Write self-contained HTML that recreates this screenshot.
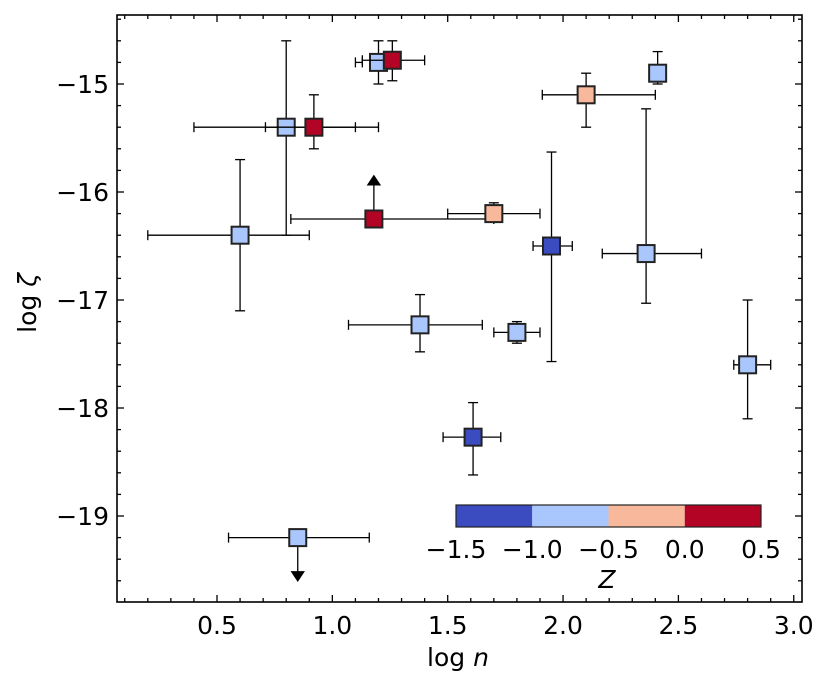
<!DOCTYPE html>
<html><head><meta charset="utf-8"><style>
body{margin:0;background:#fff}
svg{display:block;font-family:"DejaVu Sans","Liberation Sans",sans-serif}
</style></head><body>
<svg id="c" width="831" height="687"></svg>
<script>
const xs=[0.6,0.8,0.92,1.2,1.26,1.18,1.7,1.38,1.8,1.95,2.1,2.41,2.36,2.8,1.61,0.85];
const ys=[-16.4,-15.4,-15.4,-14.8,-14.78,-16.25,-16.2,-17.23,-17.3,-16.5,-15.1,-14.9,-16.57,-17.6,-18.27,-19.2];
const xlo=[0.2,0.4,0.71,1.1,1.13,0.82,1.5,1.07,1.7,1.87,1.91,2.39,2.17,2.74,1.48,0.55];
const xhi=[0.9,1.1,1.2,1.13,1.4,1.7,1.9,1.65,1.9,2.04,2.4,2.44,2.6,2.9,1.73,1.16];
const ylo=[-17.1,-16.4,-15.6,-15.0,-14.97,null,-16.25,-17.48,-17.4,-17.57,-15.4,-15.0,-17.03,-18.1,-18.62,null];
const yhi=[-15.7,-14.6,-15.1,-14.6,-14.6,null,-16.1,-16.95,-17.2,-15.63,-14.9,-14.7,-15.23,-17.0,-17.95,null];
const zs=[-0.8,-0.8,0.3,-0.8,0.3,0.3,-0.3,-0.8,-0.8,-1.3,-0.3,-0.8,-0.8,-0.8,-1.3,-0.8];
const limits=[0,0,0,0,0,1,0,0,0,0,0,0,0,0,0,-1];
const xTicks=[0.5,1.0,1.5,2.0,2.5,3.0];
const yTicks=[-15,-16,-17,-18,-19];
const cbTicks=[-1.5,-1.0,-0.5,0.0,0.5];
const cbColors=['#3b4cc0','#aac7fd','#f7b89c','#b40426'];

const L=117,R=802,T=15,B=602;
const X=v=>217+(v-0.5)*230.7;
const Y=v=>84-(v+15)*108;
const svg=document.getElementById('c');
const NS='http://www.w3.org/2000/svg';
function el(t,a,p){const e=document.createElementNS(NS,t);for(const k in a)e.setAttribute(k,a[k]);(p||svg).appendChild(e);return e;}
function col(z){const i=Math.max(0,Math.min(3,Math.floor((z+1.5)/0.5)));return cbColors[i];}
const fmt=v=>(v<0?'\u2212':'')+Math.abs(v).toFixed(1);
const FS=25;

const tg=el('g',{stroke:'#000','stroke-width':1.3});

for(let v=0.1;v<=3.01;v+=0.1){const px=X(v);if(px<L||px>R)continue;const maj=Math.abs(v*2-Math.round(v*2))<1e-6;const l=maj?7:4;
 el('line',{x1:px,x2:px,y1:B,y2:B-l},tg);el('line',{x1:px,x2:px,y1:T,y2:T+l},tg);}
for(let v=-19.8;v<=-14.3;v+=0.2){const py=Y(v);if(py<T||py>B)continue;const maj=Math.abs(v-Math.round(v))<1e-6;const l=maj?7:4;
 el('line',{x1:L,x2:L+l,y1:py,y2:py},tg);el('line',{x1:R,x2:R-l,y1:py,y2:py},tg);}
xTicks.forEach(v=>{const t=el('text',{x:X(v),y:B+32,'font-size':FS,'text-anchor':'middle'});t.textContent=v.toFixed(1);
 });
yTicks.forEach(v=>{const t=el('text',{x:L-8,y:Y(v)+9,'font-size':FS,'text-anchor':'end'});t.textContent='\u2212'+Math.abs(v);
 });

for(let i=0;i<xs.length;i++){
 const g=el('g',{stroke:'#000','stroke-width':1.3});
 
 const cx=X(xs[i]),cy=Y(ys[i]);
 el('line',{x1:X(xlo[i]),x2:X(xlo[i]),y1:cy-5,y2:cy+5},g);
 el('line',{x1:X(xhi[i]),x2:X(xhi[i]),y1:cy-5,y2:cy+5},g);
 el('line',{x1:X(xlo[i]),x2:X(xhi[i]),y1:cy,y2:cy},g);
 if(ylo[i]!==null){
  el('line',{x1:cx,x2:cx,y1:Y(yhi[i]),y2:Y(ylo[i])},g);
  el('line',{x1:cx-5,x2:cx+5,y1:Y(yhi[i]),y2:Y(yhi[i])},g);
  el('line',{x1:cx-5,x2:cx+5,y1:Y(ylo[i]),y2:Y(ylo[i])},g);
 }
 if(limits[i]===1){const ty=Y(ys[i]+0.4);el('line',{x1:cx,x2:cx,y1:cy,y2:ty+8},g);el('polygon',{points:`${cx-6},${ty+9} ${cx+6},${ty+9} ${cx},${ty}`,fill:'#000'},g);}
 if(limits[i]===-1){const ty=Y(ys[i]-0.4);el('line',{x1:cx,x2:cx,y1:cy,y2:ty-8},g);el('polygon',{points:`${cx-6},${ty-9} ${cx+6},${ty-9} ${cx},${ty}`,fill:'#000'},g);}
 el('rect',{x:cx-8.5,y:cy-8.5,width:17,height:17,fill:col(zs[i]),stroke:'#222','stroke-width':2},g);
}

const fr=el('rect',{x:L,y:T,width:R-L,height:B-T,fill:'none',stroke:'#000','stroke-width':1.6});


const cg=el('g',{});
const cbL=456,cbR=761,cbT=505,cbB=527,CX=v=>cbL+(v+1.5)/2*(cbR-cbL);
cbColors.forEach((c,i)=>el('rect',{x:CX(-1.5+i*0.5),y:cbT,width:CX(-1)-CX(-1.5),height:cbB-cbT,fill:c},cg));
el('rect',{x:cbL,y:cbT,width:cbR-cbL,height:cbB-cbT,fill:'none',stroke:'#222','stroke-width':1.2},cg);
cbTicks.forEach(v=>{const t=el('text',{x:CX(v),y:558,'font-size':FS,'text-anchor':'middle'},cg);t.textContent=fmt(v);});
const zl=el('text',{x:607,y:588,'font-size':FS,'font-style':'italic','text-anchor':'middle'},cg);zl.textContent='Z';

const xl=el('text',{x:458,y:666,'font-size':FS,'text-anchor':'middle'});
xl.innerHTML='log <tspan font-style="italic">n</tspan>';

const yl=el('text',{x:0,y:0,'font-size':FS,'text-anchor':'middle',transform:'translate(36,303) rotate(-90)'});
yl.innerHTML='log <tspan font-style="italic">\u03b6</tspan>';

</script>
</body></html>
